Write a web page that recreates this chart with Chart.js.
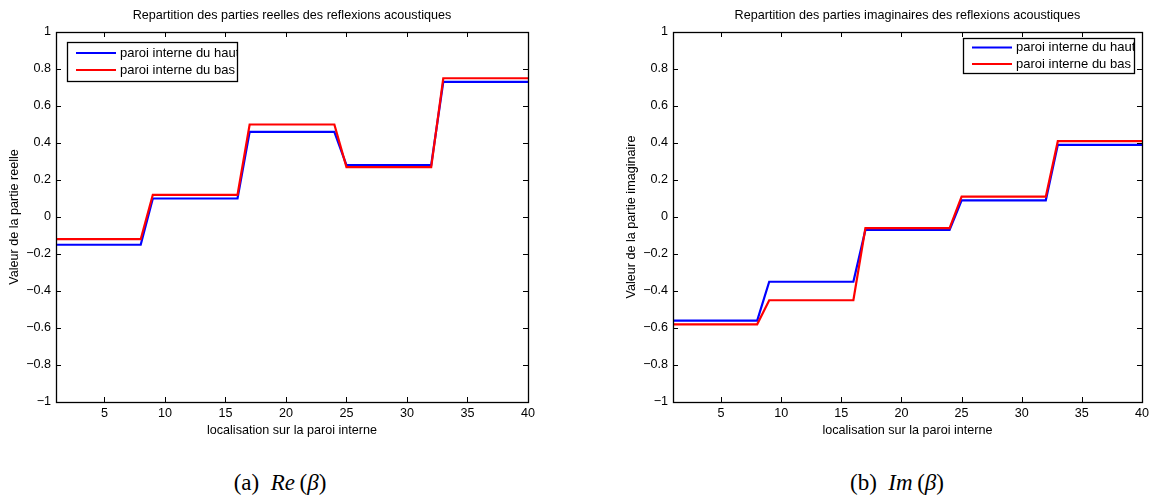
<!DOCTYPE html>
<html><head><meta charset="utf-8">
<script src="https://cdn.jsdelivr.net/npm/chart.js@4.4.1/dist/chart.umd.min.js"></script>
<style>
html,body{margin:0;padding:0;background:#fff;width:1153px;height:502px;overflow:hidden;}
.wrap{position:absolute;top:0;}
canvas{display:block;}
.cap{position:absolute;top:468px;width:300px;text-align:center;font-family:"Liberation Serif","DejaVu Serif",serif;font-size:23px;color:#000;white-space:nowrap;line-height:30px;}
.cap i{font-style:italic;}
</style></head><body>
<div class="wrap" style="left:0"><canvas id="c1" width="576" height="450"></canvas></div>
<div class="wrap" style="left:617px"><canvas id="c2" width="536" height="450"></canvas></div>
<div class="cap" style="left:130px">(a)&nbsp;&nbsp;<i>Re</i>&thinsp;(<i>β</i>)</div>
<div class="cap" style="left:747px">(b)&nbsp;&nbsp;<i>Im</i>&thinsp;(<i>β</i>)</div>
<script>
// ---- data ----
const positions = [1,2,3,4,5,6,7,8,9,10,11,12,13,14,15,16,17,18,19,20,21,22,23,24,25,26,27,28,29,30,31,32,33,34,35,36,37,38,39,40];
const xTicks = [5,10,15,20,25,30,35,40];
const yTicks = [-1,-0.8,-0.6,-0.4,-0.2,0,0.2,0.4,0.6,0.8,1];
const seriesNames = ['paroi interne du haut','paroi interne du bas'];

const reHaut = [-0.15,-0.15,-0.15,-0.15,-0.15,-0.15,-0.15,-0.15,
                 0.10, 0.10, 0.10, 0.10, 0.10, 0.10, 0.10, 0.10,
                 0.46, 0.46, 0.46, 0.46, 0.46, 0.46, 0.46, 0.46,
                 0.28, 0.28, 0.28, 0.28, 0.28, 0.28, 0.28, 0.28,
                 0.73, 0.73, 0.73, 0.73, 0.73, 0.73, 0.73, 0.73];
const reBas  = [-0.12,-0.12,-0.12,-0.12,-0.12,-0.12,-0.12,-0.12,
                 0.12, 0.12, 0.12, 0.12, 0.12, 0.12, 0.12, 0.12,
                 0.50, 0.50, 0.50, 0.50, 0.50, 0.50, 0.50, 0.50,
                 0.27, 0.27, 0.27, 0.27, 0.27, 0.27, 0.27, 0.27,
                 0.75, 0.75, 0.75, 0.75, 0.75, 0.75, 0.75, 0.75];
const imHaut = [-0.56,-0.56,-0.56,-0.56,-0.56,-0.56,-0.56,-0.56,
                -0.35,-0.35,-0.35,-0.35,-0.35,-0.35,-0.35,-0.35,
                -0.07,-0.07,-0.07,-0.07,-0.07,-0.07,-0.07,-0.07,
                 0.09, 0.09, 0.09, 0.09, 0.09, 0.09, 0.09, 0.09,
                 0.39, 0.39, 0.39, 0.39, 0.39, 0.39, 0.39, 0.39];
const imBas  = [-0.58,-0.58,-0.58,-0.58,-0.58,-0.58,-0.58,-0.58,
                -0.45,-0.45,-0.45,-0.45,-0.45,-0.45,-0.45,-0.45,
                -0.06,-0.06,-0.06,-0.06,-0.06,-0.06,-0.06,-0.06,
                 0.11, 0.11, 0.11, 0.11, 0.11, 0.11, 0.11, 0.11,
                 0.41, 0.41, 0.41, 0.41, 0.41, 0.41, 0.41, 0.41];

const FONT = '"Liberation Sans", Arial, sans-serif';
const FS = 12.6;
const LEG_FS = 13;

function fmt(v){
  const s = (Math.round(v*10)/10).toString();
  return s.replace('-', '\u2212');
}

const framePlugin = {
  id: 'frame',
  afterDraw(chart, args, opts) {
    const ctx = chart.ctx;
    const a = chart.chartArea;
    const xs = chart.scales.x, ys = chart.scales.y;
    ctx.save();
    ctx.strokeStyle = '#000';
    ctx.lineWidth = 1;
    ctx.beginPath();
    const L = 5;
    xTicks.forEach(v => {
      const px = Math.round(xs.getPixelForValue(v)) + 0.5;
      ctx.moveTo(px, a.bottom); ctx.lineTo(px, a.bottom - L);
      ctx.moveTo(px, a.top); ctx.lineTo(px, a.top + L);
    });
    yTicks.forEach(v => {
      const py = Math.round(ys.getPixelForValue(v)) + 0.5;
      ctx.moveTo(a.left, py); ctx.lineTo(a.left + L, py);
      ctx.moveTo(a.right, py); ctx.lineTo(a.right - L, py);
    });
    ctx.stroke();
    ctx.lineWidth = 1.3;
    ctx.strokeRect(a.left + 0.5, a.top + 0.5, a.right - a.left, a.bottom - a.top);
    // title
    ctx.fillStyle = '#000';
    ctx.font = FS + 'px ' + FONT;
    ctx.textAlign = 'center';
    ctx.textBaseline = 'middle';
    ctx.fillText(opts.title, (a.left + a.right) / 2, 16);
    // legend
    const lg = opts.legend;
    ctx.font = LEG_FS + 'px ' + FONT;
    ctx.fillStyle = '#fff';
    ctx.fillRect(lg.x, lg.y, lg.w, lg.h);
    ctx.save();
    ctx.beginPath();
    ctx.rect(lg.x, lg.y, lg.w, lg.h);
    ctx.clip();
    chart.data.datasets.slice().sort((p, q) => p.legendIndex - q.legendIndex).forEach((ds, i) => {
      const ry = lg.y + lg.rows[i];
      ctx.strokeStyle = ds.borderColor;
      ctx.lineWidth = 2.2;
      ctx.beginPath();
      ctx.moveTo(lg.x + 9, ry); ctx.lineTo(lg.x + 49, ry);
      ctx.stroke();
      ctx.fillStyle = '#000';
      ctx.textAlign = 'left';
      ctx.fillText(ds.label, lg.x + 53, ry);
    });
    ctx.restore();
    ctx.strokeStyle = '#000';
    ctx.lineWidth = 1.3;
    ctx.strokeRect(lg.x + 0.5, lg.y + 0.5, lg.w, lg.h);
    ctx.restore();
  }
};

function makeChart(id, haut, bas, title, ytitle, rightPad, legend) {
  const pts = arr => positions.map((x, i) => ({x: x, y: arr[i]}));
  return new Chart(document.getElementById(id), {
    type: 'line',
    data: {
      datasets: [
        {label: seriesNames[1], data: pts(bas), borderColor: '#ff0000', borderWidth: 2.2, pointRadius: 0, tension: 0, order: 0, legendIndex: 1},
        {label: seriesNames[0], data: pts(haut), borderColor: '#0000ff', borderWidth: 2.2, pointRadius: 0, tension: 0, order: 1, legendIndex: 0}
      ]
    },
    options: {
      responsive: false,
      animation: false,
      layout: {padding: {left: 0, top: 32, right: rightPad, bottom: 0}},
      plugins: {legend: {display: false}, tooltip: {enabled: false},
        frame: {title: title, legend: legend}},
      scales: {
        x: {
          type: 'linear', min: 1, max: 40,
          afterBuildTicks: s => { s.ticks = xTicks.map(v => ({value: v})); },
          afterFit: s => { s.height = 48; },
          grid: {display: false, drawTicks: false},
          border: {display: false},
          ticks: {color: '#000', font: {family: FONT, size: FS}, padding: 4, maxRotation: 0, autoSkip: false},
          title: {display: true, text: 'localisation sur la paroi interne', color: '#000',
                  font: {family: FONT, size: FS}, padding: {top: 0, bottom: 12}}
        },
        y: {
          type: 'linear', min: -1, max: 1,
          afterBuildTicks: s => { s.ticks = yTicks.map(v => ({value: v})); },
          afterFit: s => { s.width = 56; },
          grid: {display: false, drawTicks: false},
          border: {display: false},
          ticks: {color: '#000', font: {family: FONT, size: FS}, padding: 5, autoSkip: false,
                  callback: v => fmt(v)},
          title: {display: true, text: ytitle, color: '#000',
                  font: {family: FONT, size: FS}, padding: {top: 7, bottom: 0}}
        }
      }
    },
    plugins: [framePlugin]
  });
}

makeChart('c1', reHaut, reBas,
  'Repartition des parties reelles des reflexions acoustiques',
  'Valeur de la partie reelle', 48,
  {x: 67, y: 42, w: 170, h: 39, rows: [11, 28]});
makeChart('c2', imHaut, imBas,
  'Repartition des parties imaginaires des reflexions acoustiques',
  'Valeur de la partie imaginaire', 7,
  {x: 346, y: 38, w: 171, h: 35, rows: [9.5, 26]});
</script>
</body></html>
